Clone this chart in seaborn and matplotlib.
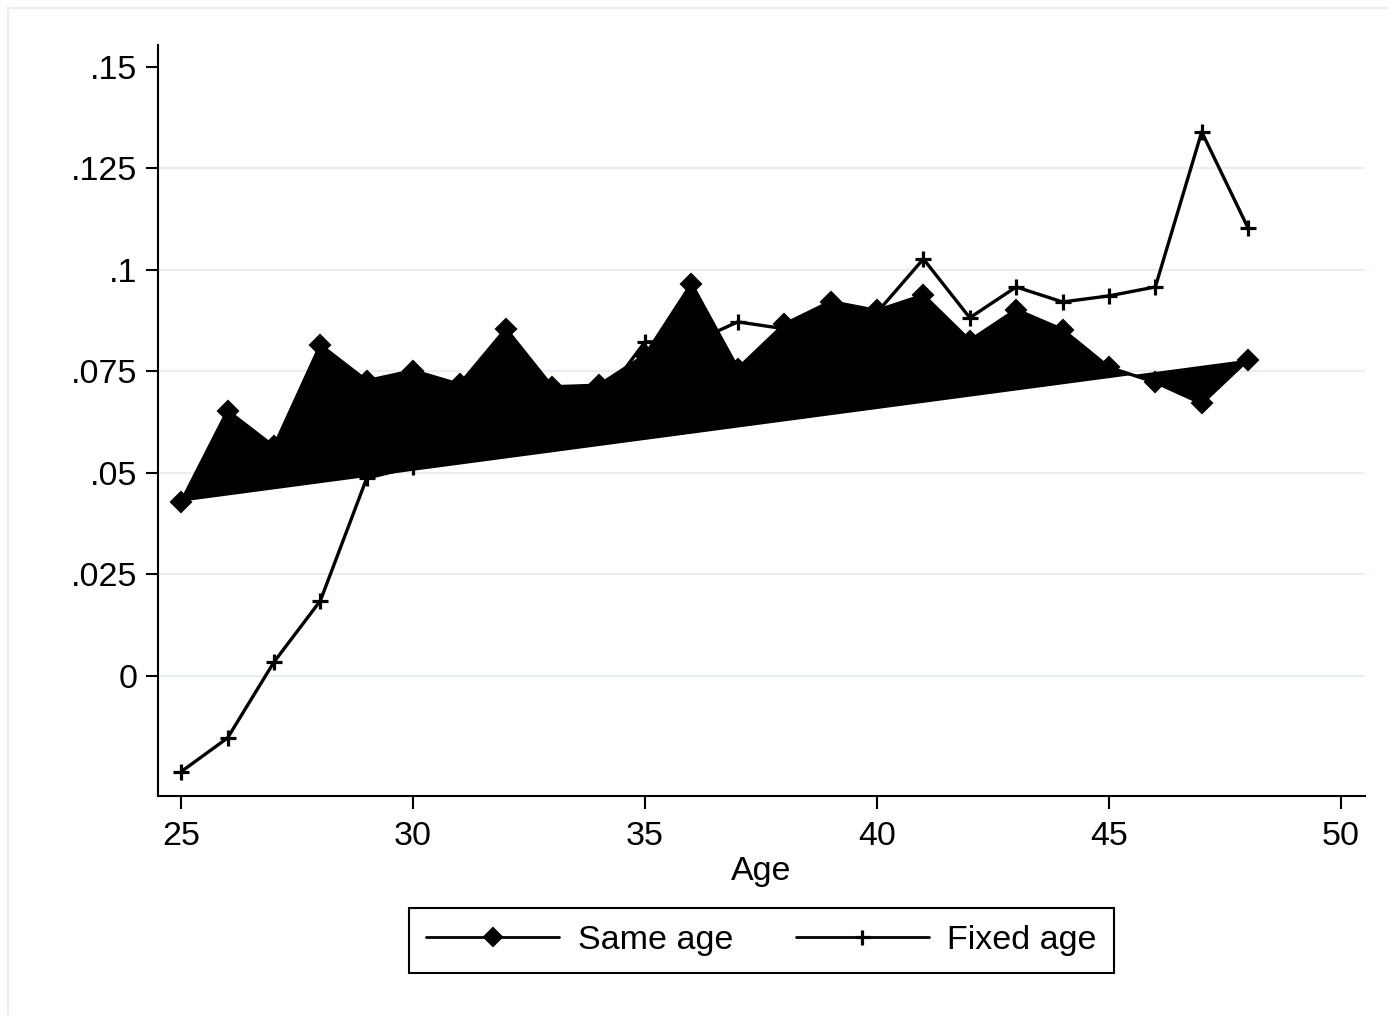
import matplotlib
matplotlib.use("Agg")
import matplotlib.pyplot as plt
from matplotlib.patches import Rectangle
import pandas as pd
import seaborn as sns

# Ages and the two series
ages = list(range(25, 49))
same_age = [0.0429, 0.0653, 0.0565, 0.0815, 0.0727, 0.0752, 0.0718, 0.0855,
            0.0712, 0.0716, 0.0790, 0.0966, 0.0757, 0.0866, 0.0922, 0.0900,
            0.0938, 0.0826, 0.0902, 0.0853, 0.0760, 0.0723, 0.0671, 0.0779]
fixed_age = [-0.0236, -0.0153, 0.0034, 0.0185, 0.0487, 0.0515, 0.0570, 0.0620,
             0.0640, 0.0670, 0.0823, 0.0820, 0.0872, 0.0855, 0.0895, 0.0895,
             0.1027, 0.0882, 0.0958, 0.0921, 0.0936, 0.0958, 0.1340, 0.1103]

y_ticks = [0, 0.025, 0.05, 0.075, 0.1, 0.125, 0.15]
y_tick_labels = ["0", ".025", ".05", ".075", ".1", ".125", ".15"]
x_ticks = [25, 30, 35, 40, 45, 50]

df = pd.DataFrame({"Age": ages, "Same age": same_age, "Fixed age": fixed_age})

sns.set_theme(style="white")
plt.rcParams["font.family"] = ["Liberation Sans", "DejaVu Sans"]
plt.rcParams["text.color"] = "black"
plt.rcParams["axes.labelcolor"] = "black"

fig = plt.figure(figsize=(13.88, 10.15), dpi=100)
ax = fig.add_axes([158 / 1388, 1 - 796 / 1015, (1365 - 158) / 1388, (796 - 45) / 1015])

grid_color = "#e8eff1"
for yv in y_ticks[:-1]:
    ax.axhline(yv, color=grid_color, lw=1.6, zorder=0)

# Area enclosed by the same-age curve
ax.fill(df["Age"], df["Same age"], color="black", lw=0, zorder=1)

sns.lineplot(data=df, x="Age", y="Same age", ax=ax, color="black", lw=2.4,
             marker="D", markersize=10.5, markeredgewidth=1.5,
             markeredgecolor="black", markerfacecolor="black",
             label="Same age", zorder=2)
sns.lineplot(data=df, x="Age", y="Fixed age", ax=ax, color="black", lw=2.4,
             marker="+", markersize=12, markeredgewidth=2.3,
             markeredgecolor="black", markerfacecolor="black",
             label="Fixed age", zorder=3)

ax.set_xlim(24.5, 50.52)
ax.set_ylim(-0.0296, 0.1554)
ax.set_xticks(x_ticks)
ax.set_xticklabels([str(v) for v in x_ticks])
ax.set_yticks(y_ticks)
ax.set_yticklabels(y_tick_labels)
ax.grid(False)

for side in ["top", "right"]:
    ax.spines[side].set_visible(False)
for side in ["left", "bottom"]:
    ax.spines[side].set_color("black")
    ax.spines[side].set_linewidth(1.5)

ax.tick_params(axis="both", which="major", direction="out", length=9, width=1.5,
               color="black", labelsize=24.5, labelcolor="black", pad=6,
               left=True, bottom=True)
ax.tick_params(axis="x", pad=9)
ax.set_xlabel("Age", fontsize=24.5, color="black", labelpad=3)
ax.set_ylabel("")

leg = ax.legend(loc="center", bbox_to_anchor=(0.5, -0.192), ncol=2,
                fontsize=24.5, frameon=True, fancybox=False, edgecolor="black",
                framealpha=1.0, handlelength=3.9, handletextpad=0.55,
                columnspacing=1.85, borderpad=0.5, numpoints=1, markerscale=0.9)
leg.get_frame().set_linewidth(1.5)
for text in leg.get_texts():
    text.set_color("black")
for line in leg.get_lines():
    line.set_linewidth(2.0)

# Light outer border of the graph region
fig.patches.append(Rectangle((8 / 1388, -0.1), 1.2, 1 - 8 / 1015 + 0.1,
                             transform=fig.transFigure, fill=False,
                             edgecolor="#e6eef1", lw=1.5))

fig.savefig("out.png", dpi=100, facecolor="white")
